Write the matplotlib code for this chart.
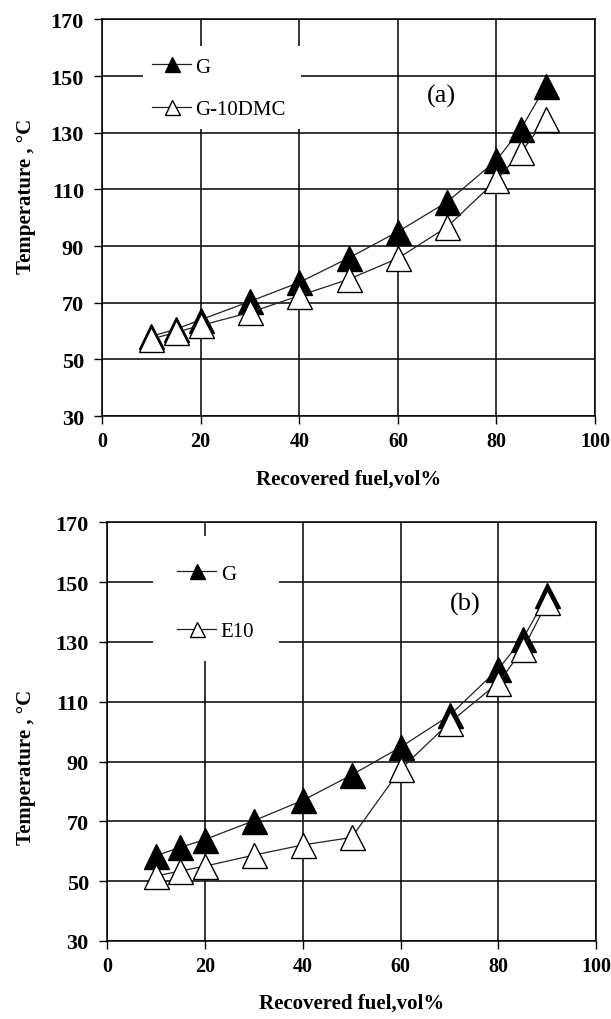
import numpy as np
import matplotlib
matplotlib.use("Agg")
import matplotlib.pyplot as plt
from matplotlib.patches import Rectangle

plt.rcParams['font.family'] = ['Liberation Serif', 'DejaVu Serif']

# data
recovered = [10, 15, 20, 30, 40, 50, 60, 70, 80, 85, 90]

temp_g_a = [58.2, 60.7, 64.0, 70.5, 77.2, 85.8, 95.1, 105.6, 120.3, 131.5, 146.5]
temp_dmc = [57.2, 59.6, 62.0, 66.6, 72.5, 78.3, 85.7, 96.8, 113.3, 123.2, 134.8]

temp_g_b = [58.5, 61.3, 63.9, 70.2, 77.0, 85.5, 94.8, 105.4, 121.0, 131.1, 145.6]
temp_e10 = [51.7, 53.4, 55.0, 58.7, 62.1, 64.6, 87.4, 103.0, 116.4, 127.5, 143.4]

xticks = [0, 20, 40, 60, 80, 100]
yticks = [30, 50, 70, 90, 110, 130, 150, 170]

fig = plt.figure(figsize=(6.11, 10.2), dpi=100)
ax_a = fig.add_axes([0.167, 0.591, 0.807, 0.389])
ax_b = fig.add_axes([0.175, 0.0765, 0.801, 0.4105])


def draw_panel(ax, y1, y2, lab2, tag, tag_x, box, leg_anchor, spacing, ylab_pos):
    ax.set_axisbelow(True)
    ax.grid(True, color='black', linewidth=1.1)
    ax.add_patch(Rectangle(box[:2], box[2], box[3], transform=ax.transAxes,
                           facecolor='white', edgecolor='none', zorder=1))
    l1, = ax.plot(recovered, y1, color='#222222', linewidth=0.9, marker='^',
                  markersize=18, markerfacecolor='black', markeredgecolor='black',
                  markeredgewidth=1.0, zorder=3)
    l2, = ax.plot(recovered, y2, color='#222222', linewidth=0.9, marker='^',
                  markersize=18, markerfacecolor='white', markeredgecolor='black',
                  markeredgewidth=1.0, zorder=3)
    ax.set_xlim(0, 100)
    ax.set_ylim(30, 170)
    ax.set_xticks(xticks)
    ax.set_yticks(yticks)
    ax.tick_params(direction='out', length=6, width=1)
    ax.tick_params(axis='y', pad=7, labelsize=16)
    ax.tick_params(axis='x', pad=5, labelsize=14.5)
    for t in ax.get_xticklabels() + ax.get_yticklabels():
        t.set_fontweight('bold')
    for s in ax.spines.values():
        s.set_linewidth(1.1)
    ax.set_xlabel('Recovered fuel,vol%', fontsize=15, fontweight='bold', labelpad=12)
    ax.set_ylabel('Temperature , \u00b0C', fontsize=15, fontweight='bold')
    ax.yaxis.set_label_coords(*ylab_pos)
    ax.text(tag_x, 143, tag, fontsize=19, ha='center', va='center', zorder=4)
    leg = ax.legend([l1, l2], ['G', lab2], loc='upper left', bbox_to_anchor=leg_anchor,
                    frameon=False, fontsize=15, handlelength=1.9, handletextpad=0.2,
                    labelspacing=spacing, borderpad=0, borderaxespad=0, markerscale=0.6)
    leg.set_zorder(5)


draw_panel(ax_a, temp_g_a, temp_dmc, 'G-10DMC', '(a)', 68.9,
           (0.083, 0.723, 0.321, 0.209), (0.101, 0.905), 1.1, (-0.133, 0.557))
draw_panel(ax_b, temp_g_b, temp_e10, 'E10', '(b)', 73.3,
           (0.094, 0.668, 0.258, 0.299), (0.143, 0.90), 1.8, (-0.145, 0.418))

fig.savefig('out.png', dpi=100)
